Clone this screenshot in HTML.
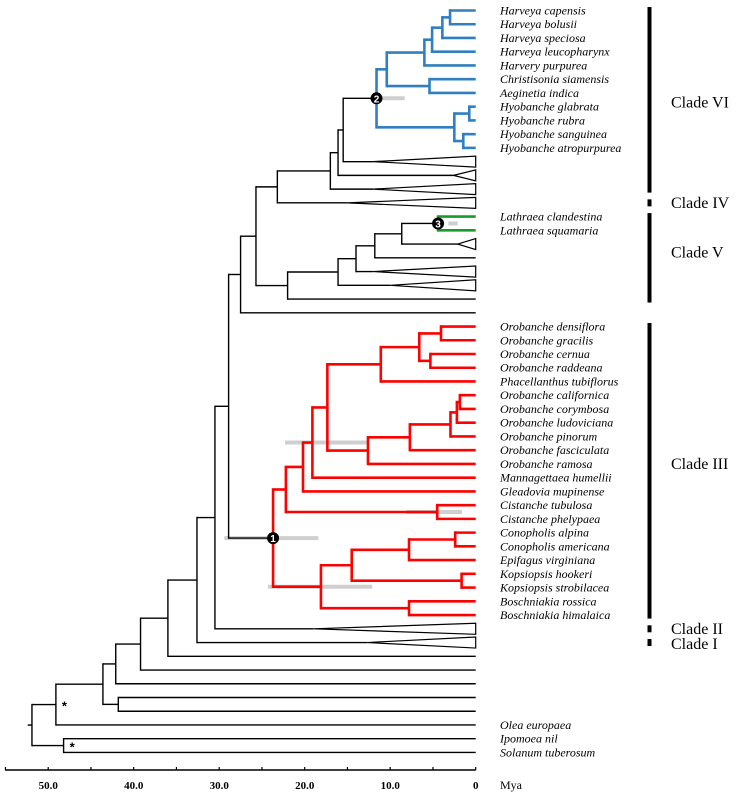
<!DOCTYPE html>
<html><head><meta charset="utf-8"><style>
html,body{margin:0;padding:0;background:#fff;}
svg{display:block;}
.tx{font-family:"Liberation Serif",serif;font-style:italic;font-size:12px;fill:#000;}
.cl{font-family:"Liberation Serif",serif;font-size:16px;fill:#000;}
.tk{font-family:"Liberation Serif",serif;font-size:11px;font-weight:bold;fill:#000;}
</style></head><body>
<svg id="chart" width="743" height="793" viewBox="0 0 743 793" xmlns="http://www.w3.org/2000/svg">
<g id="bars"></g>
<g id="tree"></g>
<g id="labels"></g>
<g id="marks"></g>
<g id="axis"></g>
<g id="clades"></g>
</svg>
<script>
// ---- data ----
const axisTicks = [50, 40, 30, 20, 10, 0];
const axisTickLabels = ["50.0", "40.0", "30.0", "20.0", "10.0", "0"];
const ciBars = [["n2", 11.7, 8.3], ["n3", 3.2, 2.1], ["n19", 22.3, 12.7], ["n1", 29.4, 18.4], ["n18", 24.3, 12.1], ["n4.5", 8.1, 1.6]];
const nodeMarkers = [["n1", "1"], ["n2", "2"], ["n3", "3"]];
const cladeNames = ["Clade VI", "Clade IV", "Clade V", "Clade III", "Clade II", "Clade I"];
const cladeRows = [[0, 13], [14, 14], [15, 21], [23, 44], [45, 45], [46, 46]];
const cladeLabelRows = [6.7, 14, 17.6, 33, 45.0, 46.1];

function L(n){return {n:n};}
function T(apex){return {tri:apex};}
function E(){return {};}
function N(a,c,extra){const o={a:a,c:c};if(extra)Object.assign(o,extra);return o;}

const blue = N(11.6,[
  N(10.4,[ N(6.0,[ N(5.1,[ N(3.9,[ N(3.0,[L("Harveya capensis"),L("Harveya bolusii")]), L("Harveya speciosa")]), L("Harveya leucopharynx")]), L("Harvery purpurea")]),
           N(5.4,[L("Christisonia siamensis"),L("Aeginetia indica")]) ]),
  N(2.5,[ N(0.75,[L("Hyobanche glabrata"),L("Hyobanche rubra")]), N(1.45,[L("Hyobanche sanguinea"),L("Hyobanche atropurpurea")]) ])
],{col:"#2f7fc1",id:"n2"});
const green = N(4.4,[L("Lathraea clandestina"),L("Lathraea squamaria")],{col:"#1a9a2a",id:"n3"});
const upper = N(27.5,[
  N(25.7,[
    N(23.2,[ N(17.0,[ N(16.1,[ N(15.5,[blue, T(12)]), T(2.6)]), T(12)]), T(15)]),
    N(22.0,[ N(16.1,[ N(14.0,[ N(11.8,[ N(8.65,[green, T(2.1)]), E()]), T(12)]), T(10)]), E()])
  ]),
  E()
]);
const red = N(23.7,[
  N(22.2,[
    N(20.2,[
      N(19.1,[
        N(17.35,[
          N(11.1,[ N(6.6,[ N(4.06,[L("Orobanche densiflora"),L("Orobanche gracilis")]), N(5.3,[L("Orobanche cernua"),L("Orobanche raddeana")]) ]), L("Phacellanthus tubiflorus")]),
          N(12.6,[ N(7.7,[ N(2.95,[ N(2.2,[ N(1.85,[L("Orobanche californica"),L("Orobanche corymbosa")]), L("Orobanche ludoviciana")]), L("Orobanche pinorum")]), L("Orobanche fasciculata")]), L("Orobanche ramosa")])
        ]),
        L("Mannagettaea humellii")
      ],{id:"n19"}),
      L("Gleadovia mupinense")
    ]),
    N(4.5,[L("Cistanche tubulosa"),L("Cistanche phelypaea")],{id:"n4.5"})
  ]),
  N(18.1,[
    N(14.5,[ N(7.8,[ N(2.4,[L("Conopholis alpina"),L("Conopholis americana")]), L("Epifagus virginiana")]), N(1.65,[L("Kopsiopsis hookeri"),L("Kopsiopsis strobilacea")]) ]),
    N(7.8,[L("Boschniakia rossica"),L("Boschniakia himalaica")])
  ],{id:"n18"})
],{col:"#ff0000",id:"n1"});
const root = N(51.9,[
  N(49.1,[
    N(43.6,[
      N(42.1,[ N(39.2,[ N(36.0,[ N(32.6,[ N(30.5,[ N(28.9,[upper, red]), T(19)]), T(12.7)]), E()]), E()]), E()]),
      N(41.8,[E(),E()],{star:false})
    ]),
    L("Olea europaea")
  ],{star:true}),
  N(48.2,[L("Ipomoea nil"),L("Solanum tuberosum")],{star:true})
]);
const rootStemAge = 52.4;

// ---- scales ----
function xS(t){return 475.7 - t*8.55;}
function yS(r){return 10.5 + r*13.74;}

const NS="http://www.w3.org/2000/svg";
function mk(tag,attrs,parent){const e=document.createElementNS(NS,tag);for(const k in attrs)e.setAttribute(k,attrs[k]);parent.appendChild(e);return e;}
const gTree=document.getElementById('tree'), gLab=document.getElementById('labels'),
      gBars=document.getElementById('bars'), gMarks=document.getElementById('marks'),
      gAxis=document.getElementById('axis'), gCl=document.getElementById('clades');

let row=0; const byId={};
function layout(node,col){
  if(node.col) col=node.col;
  node.color=col||"#000";
  if(node.c){
    node.c.forEach(ch=>layout(ch,node.color));
    node.y=(node.c[0].y+node.c[node.c.length-1].y)/2;
  } else { node.a=0; node.y=yS(row); node.row=row; row++; }
  if(node.id) byId[node.id]=node;
}
layout(root,"#000");

function draw(node){
  if(!node.c) return;
  const w=node.color==="#000"?1.4:2.6;
  const xv=xS(node.a);
  const v=mk('line',{x1:xv,x2:xv,y1:node.c[0].y,y2:node.c[node.c.length-1].y,stroke:node.color,'stroke-width':w,'stroke-linecap':'square'},gTree);
  
  
  node.c.forEach(ch=>{
    const end = ch.tri!==undefined ? ch.tri : ch.a;
    const h=mk('line',{x1:xv,x2:xS(end),y1:ch.y,y2:ch.y,stroke:node.color,'stroke-width':w},gTree);
    
    
    if(ch.tri!==undefined){
      const p=mk('polygon',{points:`${xS(ch.tri)},${ch.y} ${xS(0)},${ch.y-5.5} ${xS(0)},${ch.y+5.5}`,fill:'#fff',stroke:'#000','stroke-width':1.2},gTree);
      
      
    }
    if(ch.n){
      const t=mk('text',{x:500,y:ch.y+4,class:'tx','font-family':'Liberation Serif, serif','font-style':'italic','font-size':'12'},gLab);t.textContent=ch.n;
      
      
    }
    draw(ch);
  });
  if(node.star){
    const s=mk('text',{x:xv+6,y:node.y+6,'font-family':'Liberation Sans,sans-serif','font-size':'13','font-weight':'bold'},gTree);
    s.textContent='*';
    
    
  }
}
draw(root);
// root stem
const rs=mk('line',{x1:xS(rootStemAge),x2:xS(root.a),y1:root.y,y2:root.y,stroke:'#000','stroke-width':1.4},gTree);



// CI bars
ciBars.forEach(b=>{
  const nd=byId[b[0]];
  const r=mk('line',{x1:xS(b[1]),x2:xS(b[2]),y1:nd.y,y2:nd.y,stroke:'#cfcfcf','stroke-width':4},gBars);
  
  
});
// markers
nodeMarkers.forEach(m=>{
  const nd=byId[m[0]];
  const c=mk('circle',{cx:xS(nd.a),cy:nd.y,r:6,fill:'#000'},gMarks);
  
  
  const t=mk('text',{x:xS(nd.a),y:nd.y+4,'text-anchor':'middle','font-family':'Liberation Sans,sans-serif','font-size':'10','font-weight':'bold',fill:'#fff'},gMarks);
  t.textContent=m[1];
  
  
});
// axis
const al=mk('line',{x1:5,x2:xS(0),y1:770,y2:770,stroke:'#000','stroke-width':1.5},gAxis);


for(let t=0;t<=55;t+=5){
  const tk=mk('line',{x1:xS(t),x2:xS(t),y1:767,y2:770,stroke:'#000','stroke-width':1.2},gAxis);
  
  
}
axisTicks.forEach((t,i)=>{
  const tx=mk('text',{x:xS(t),y:789,'text-anchor':'middle',class:'tk','font-family':'Liberation Serif, serif','font-weight':'bold','font-size':'11'},gAxis);
  tx.textContent=axisTickLabels[i];
  
  
});
const mya=mk('text',{x:500,y:789,'font-family':'Liberation Serif, serif','font-size':'12'},gAxis);
mya.textContent='Mya';


// clades
cladeNames.forEach((nm,i)=>{
  const r=cladeRows[i];
  const b=mk('rect',{x:647.5,y:yS(r[0])-3.5,width:4,height:yS(r[1])-yS(r[0])+7,fill:'#000'},gCl);
  
  
  const t=mk('text',{x:671,y:yS(cladeLabelRows[i])+5,'font-family':'Liberation Serif, serif','font-size':'16'},gCl);
  t.textContent=nm;
  
  
});
</script>
</body></html>
